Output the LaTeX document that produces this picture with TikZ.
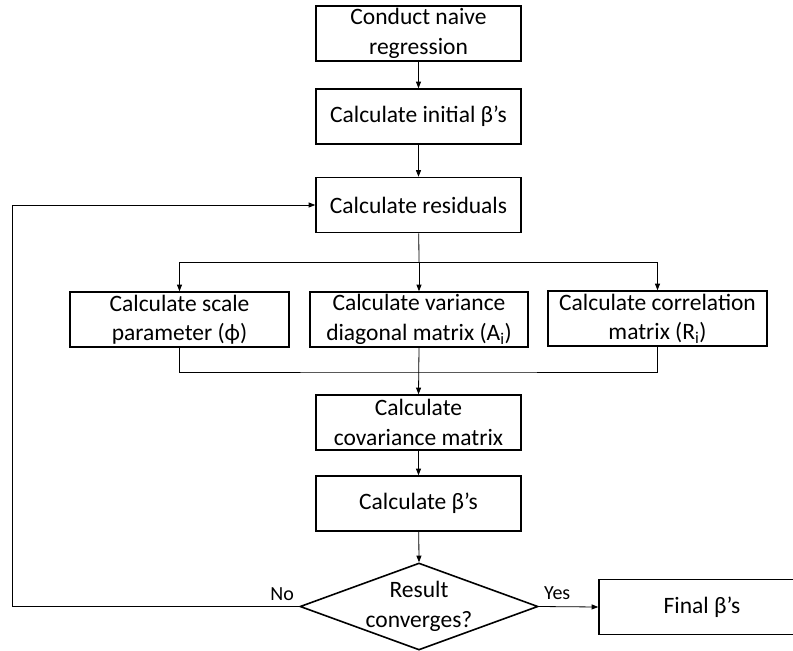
\documentclass[tikz,border=0pt]{standalone}
\usepackage{fontspec}
\setmainfont{Carlito}
\usetikzlibrary{shapes.geometric,arrows.meta}

\begin{document}
\begin{tikzpicture}[x=1pt,y=-1pt,
  txt/.style={font=\fontsize{23.5}{29.5}\selectfont, align=center},
  box/.style={txt, draw, line width=1.6pt, minimum width=205pt,
              minimum height=55pt, inner sep=2pt},
  widebox/.style={box, minimum width=219pt},
  decision/.style={draw, shape=diamond, line width=1.6pt,
                   minimum width=238pt, minimum height=87pt, inner sep=0pt},
  flow/.style={line width=0.8pt, -{Triangle[length=6.5pt,width=5pt]}},
  wire/.style={line width=0.8pt},
  answer/.style={font=\fontsize{20}{24}\selectfont, inner sep=0pt}
]
\useasboundingbox (0,0) rectangle (793,651);

% main column
\node[box] (naive) at (418.5,33.5) {Conduct naive\\regression};
\node[box] (init)  at (418.5,116.5) {Calculate initial β’s};
\node[box] (resid) at (418.5,205) {Calculate residuals};

% three parallel estimates
\node[widebox] (scale) at (179.5,319.5) {Calculate scale\\parameter (ϕ)};
\node[widebox, minimum width=218pt] (var) at (419,319.5)
  {Calculate variance\\diagonal matrix (A\textsubscript{i})};
\node[widebox] (corr) at (657.5,318.5) {Calculate correlation\\matrix (R\textsubscript{i})};

\node[box] (cov)   at (418.5,422.5) {Calculate\\covariance matrix};
\node[box] (beta)  at (418.5,503.5) {Calculate β’s};

% convergence test
\node[decision] (conv) at (419,606.5) {};
\node[txt] (convtext) at (conv.center) {Result\\converges?};
\node[box, minimum width=206pt] (final) at (702,607) {Final β’s};

% routing points
\coordinate (split) at (419,262);
\coordinate (merge) at (419,372);
\coordinate (loop)  at (12,205);

% connectors
\draw[flow] (naive) -- (init);
\draw[flow] (init) -- (resid);
\draw[wire] (resid) -- (split);
\draw[flow] (split) -| (scale.north);
\draw[flow] (split) -- (var.north);
\draw[flow] (split) -| (corr.north);
\draw[wire] (scale.south) |- (merge) -| (corr.south);
\draw[flow] (var.south) -- (cov.north);
\draw[flow] (cov) -- (beta);
\draw[flow] (beta) -- (conv.north);
\draw[flow] (conv.east) -- (final.west);
\draw[flow] (conv.west) -| (loop) -- (resid.west);

% branch labels
\node[answer, anchor=base east] (no) at (294,600) {No};
\node[answer, anchor=base west] (yes) at (544,599) {Yes};
\end{tikzpicture}
\end{document}
